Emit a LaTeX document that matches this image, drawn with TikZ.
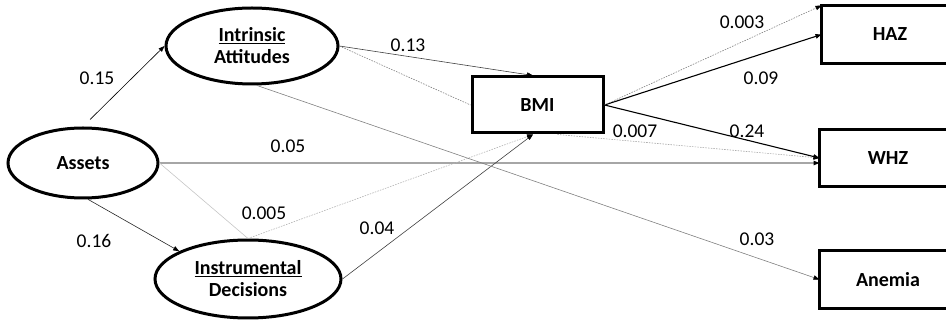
\documentclass[tikz,border=0pt]{standalone}
\usepackage{fontspec}
\setmainfont{Carlito}
\usetikzlibrary{positioning, shapes.geometric, arrows.meta}

\tikzset{
  latent/.style={ellipse, draw, line width=3pt, inner sep=0pt, align=center,
    font=\fontsize{20}{22}\selectfont\bfseries},
  observed/.style={rectangle, draw, line width=3pt, inner sep=0pt,
    font=\fontsize{20}{22}\selectfont\bfseries},
  frame/.style={line width=3pt},
  effect/.style={-{Triangle[length=6pt,width=4.5pt,color=black]}, line width=0.6pt},
  weak/.style={draw=gray!60, line width=0.6pt},
  dots/.style={draw=gray, line width=0.6pt, dash pattern=on 1.5pt off 1.2pt}
}

\begin{document}
\begin{tikzpicture}[x=1pt, y=-1pt, font=\fontsize{19.5}{22}\selectfont]
  \useasboundingbox (0,0) rectangle (946,320);

  % Draw latent variables
  \node[latent, minimum width=150pt, minimum height=70pt] (assets) at (83,163) {Assets};
  \node[latent, minimum width=172pt, minimum height=76pt] (intrinsic) at (252,46) {\underline{Intrinsic}\\Attitudes};
  \node[latent, minimum width=186pt, minimum height=78pt] (instrumental) at (248,279) {\underline{Instrumental}\\Decisions};

  % Draw observed variables (outcome boxes run off the right edge)
  \node[observed, minimum width=131pt, minimum height=56pt] (bmi) at (537.5,105) {BMI};
  \node[observed, draw=none, minimum width=134pt, minimum height=55pt] (haz) at (890,34.5) {HAZ};
  \node[observed, draw=none, minimum width=134pt, minimum height=54pt] (whz) at (888,158) {WHZ};
  \node[observed, draw=none, minimum width=134pt, minimum height=55pt] (anemia) at (888,279.5) {Anemia};
  \foreach \b in {haz, whz, anemia}
    \draw[frame] ([xshift=40pt]\b.north east) -| (\b.south west) -- ([xshift=40pt]\b.south east);

  % Paths from assets
  \draw[effect, shorten <=10pt] (assets.north) -- (intrinsic.west);
  \draw[effect, draw=gray!30!black] (assets.-82) -- (instrumental.158);
  \draw[effect, draw=gray!70, line width=1.1pt] (assets.east) -- (assets.east -| whz.west);
  \draw[weak, draw=gray!45] (assets.east) -- (instrumental.north);

  % Paths into BMI
  \draw[effect, draw=gray!50!black] (intrinsic.east) -- ([xshift=-4.5pt]bmi.north);
  \draw[dots] (intrinsic.east) -- (bmi.west);
  \draw[effect, dots, draw=gray!60] (instrumental.north) -- ([xshift=-4.5pt]bmi.south);
  \draw[effect, draw=gray!50!black] (instrumental.east) -- ([xshift=-4.5pt]bmi.south);
  \draw[effect, draw=gray] (intrinsic.-83) -- (anemia.west);

  % Paths from BMI
  \draw[effect, line width=1.1pt] (bmi.east) -- (haz.west);
  \draw[effect, dots] (bmi.east) -- (haz.north west);
  \draw[effect, line width=1.1pt] (bmi.east) -- (whz.west);
  \draw[effect, dots, draw=gray!70] ([xshift=20pt]bmi.south) -- (whz.west);

  % Coefficients
  \foreach \n/\x/\y/\v in {a/97/78/0.15, b/94/241/0.16, c/288/146/0.05, d/264/213/0.005,
      e/377/228/0.04, f/408/45/0.13, g/757/239/0.03, h/742/22/0.003,
      i/761/78/0.09, j/747/131/0.24, k/635/131/0.007} {
    \node (w\n) at (\x,\y) {\v};
  }
\end{tikzpicture}
\end{document}
